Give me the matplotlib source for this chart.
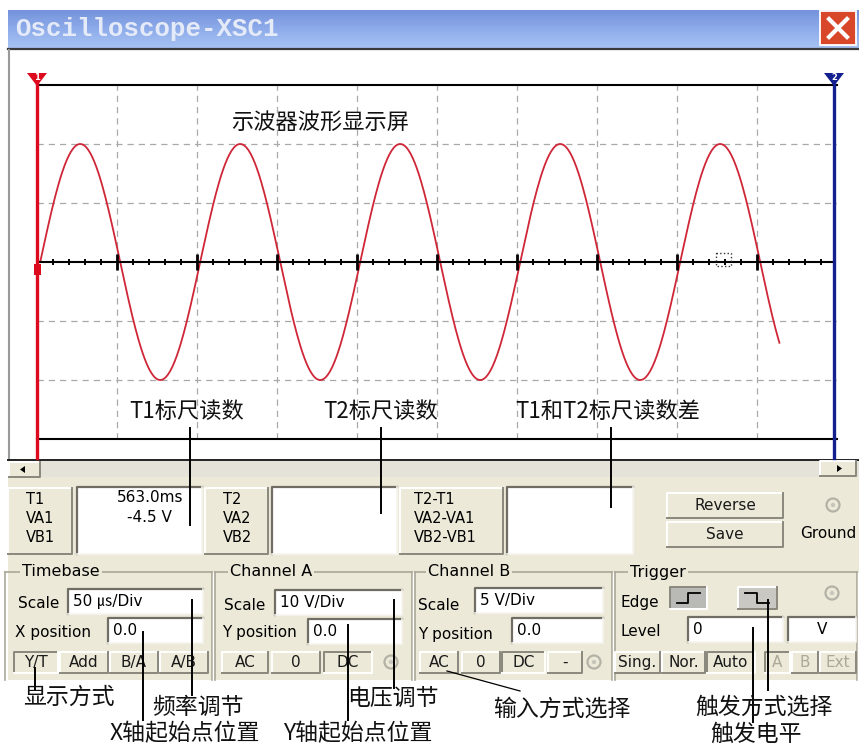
import matplotlib.pyplot as plt
from matplotlib.patches import Rectangle, Polygon, Circle
import numpy as np

plt.rcParams['font.family'] = ['DejaVu Sans', 'Noto Sans CJK SC']
CJK = ['Noto Sans CJK SC', 'DejaVu Sans']

# values shown on the scope
time_per_div_us = 50
volt_per_div = 10
x_divs = 10
y_divs = 6
wave_amp_v = 20
wave_period_us = 100
wave_start_us = 2
wave_end_us = 464

readout_labels = [['T1', 'VA1', 'VB1'], ['T2', 'VA2', 'VB2'], ['T2-T1', 'VA2-VA1', 'VB2-VB1']]
t1_readout = ['563.0ms', '-4.5 V']
timebase_fields = ['50 ㎲/Div', '0.0']
cha_fields = ['10 V/Div', '0.0']
chb_fields = ['5 V/Div', '0.0']
trig_level = ['0', 'V']

screen_notes = ['示波器波形显示屏', 'T1标尺读数', 'T2标尺读数', 'T1和T2标尺读数差']
bottom_notes = ['显示方式', '频率调节', 'X轴起始点位置', '电压调节', 'Y轴起始点位置',
                '输入方式选择', '触发方式选择', '触发电平']

W, H = 859, 746
PANEL = '#ece9d8'
fig = plt.figure(figsize=(W / 100, H / 100), dpi=100)
fig.patch.set_facecolor('white')

ui = fig.add_axes([0, 0, 1, 1], zorder=0)
ui.set_xlim(0, W)
ui.set_ylim(H, 0)
ui.axis('off')


def box(ax, x0, y0, x1, y1, fc, ec='none', lw=0, **kw):
    ax.add_patch(Rectangle((x0, y0), x1 - x0, y1 - y0, fc=fc, ec=ec, lw=lw, **kw))


def bevel(x0, y0, x1, y1, sunken=False, fc=PANEL):
    box(ui, x0, y0, x1, y1, fc)
    hi, lo = '#ffffff', '#8a887c'
    if sunken:
        hi, lo = lo, hi
    ui.plot([x0, x0, x1], [y1, y0, y0], color=hi, lw=1.4)
    ui.plot([x0, x1, x1], [y1, y1, y0], color=lo, lw=1.4)


def field(x0, y0, x1, y1, txt='', center=False):
    box(ui, x0, y0, x1, y1, 'white')
    ui.plot([x0, x0, x1], [y1, y0, y0], color='#6f6d64', lw=1.6)
    ui.plot([x0, x1, x1], [y1, y1, y0], color='#f6f5f0', lw=1.2)
    if center:
        ui.text((x0 + x1) / 2, (y0 + y1) / 2, txt, ha='center', va='center', fontsize=11)
    else:
        ui.text(x0 + 5, (y0 + y1) / 2, txt, ha='left', va='center', fontsize=11)


def button(lbl, x0, x1, sunken=False, y0=652, y1=673, color='#1a1a1a'):
    bevel(x0, y0, x1, y1, sunken)
    ui.text((x0 + x1) / 2, (y0 + y1) / 2, lbl, ha='center', va='center', fontsize=11, color=color)


def radio(x, y):
    ui.add_patch(Circle((x, y), 6.5, fc='none', ec='#b4b2a6', lw=1.6))
    ui.add_patch(Circle((x, y), 2.2, fc='#c8c6bc', ec='none'))


# title bar
grad = np.linspace(0, 1, 40).reshape(-1, 1)
ui.imshow(grad, extent=(8, W, 48, 10), cmap=plt.matplotlib.colors.LinearSegmentedColormap.from_list(
    'tb', ['#7593db', '#8eacea', '#a6c2f3']), aspect='auto', zorder=1)
ui.set_xlim(0, W)
ui.set_ylim(H, 0)
ui.text(15, 29, 'Oscilloscope-XSC1', family='Liberation Mono', weight='bold', fontsize=18.5,
        color='#e4eaf7', va='center', zorder=2)
ui.add_patch(Rectangle((820, 11), 36, 34, fc='#d8472a', ec='white', lw=1.3, zorder=2))
ui.plot([829, 847], [19, 37], color='white', lw=3, zorder=3)
ui.plot([847, 829], [19, 37], color='white', lw=3, zorder=3)
ui.plot([8, W], [49, 49], color='#3a3a3a', lw=1.6)

# screen surround
box(ui, 10, 50, 850, 459, 'white')
ui.plot([9, 9], [50, 459], color='#9a9a9a', lw=1.5)
ui.plot([8, W], [460, 460], color='#222222', lw=1.4)
box(ui, 8, 461, W, 477, '#e4e2d9')
bevel(9, 462, 40, 477)
ui.add_patch(Polygon([[20, 469.5], [25, 466], [25, 473]], fc='black'))
bevel(820, 461, 856, 476)
ui.add_patch(Polygon([[842, 468.5], [837, 465], [837, 472]], fc='black'))

# control panel
box(ui, 8, 477, W, 680, PANEL)
label_boxes = [(8, 72, 77, 202), (205, 268, 272, 397), (400, 503, 507, 633)]
for (lx0, lx1, wx0, wx1), labels in zip(label_boxes, readout_labels):
    bevel(lx0, 488, lx1, 554)
    xs = lx0 + 18 if lx1 - lx0 < 80 else lx0 + 14
    for k, s in enumerate(labels):
        ui.text(xs, 500 + k * 18.5, s, fontsize=10.5, va='center')
    field(wx0, 487, wx1, 554)
ui.text(183, 498, t1_readout[0], ha='right', va='center', fontsize=11)
ui.text(172, 517, t1_readout[1], ha='right', va='center', fontsize=11)

button('Reverse', 667, 783, y0=493, y1=518)
button('Save', 667, 783, y0=522, y1=547)
radio(833, 505)
ui.text(800, 533, 'Ground', fontsize=11, va='center')

groups = [('Timebase', 5, 212, 22), ('Channel A', 215, 412, 230), ('Channel B', 415, 612, 428),
          ('Trigger', 615, 857, 630)]
for name, gx0, gx1, lx in groups:
    ui.plot([gx0, gx1], [572, 572], color='#aca899', lw=1.2)
    ui.plot([gx0, gx0], [572, 680], color='#aca899', lw=1.2)
    ui.plot([gx1, gx1], [572, 680], color='#aca899', lw=1.2)
    ui.plot([gx1 + 1.2, gx1 + 1.2], [573, 680], color='white', lw=1)
    ui.text(lx, 572, name, fontsize=11.5, va='center',
            bbox=dict(fc=PANEL, ec='none', pad=1.5))

ui.text(18, 603, 'Scale', fontsize=11, va='center')
field(68, 589, 203, 614, timebase_fields[0])
ui.text(15, 632, 'X position', fontsize=11, va='center')
field(108, 618, 203, 643, timebase_fields[1])
for lbl, a, b, s in [('Y/T', 14, 58, True), ('Add', 60, 108, False), ('B/A', 110, 158, False),
                     ('A/B', 160, 208, False)]:
    button(lbl, a, b, s)

ui.text(224, 605, 'Scale', fontsize=11, va='center')
field(275, 590, 402, 615, cha_fields[0])
ui.text(222, 633, 'Y position', fontsize=11, va='center')
field(308, 619, 402, 644, cha_fields[1])
for lbl, a, b, s in [('AC', 222, 268, False), ('0', 272, 320, False), ('DC', 324, 372, True)]:
    button(lbl, a, b, s)
radio(391, 662)

ui.text(418, 605, 'Scale', fontsize=11, va='center')
field(475, 588, 603, 613, chb_fields[0])
ui.text(418, 634, 'Y position', fontsize=11, va='center')
field(512, 618, 603, 643, chb_fields[1])
for lbl, a, b, s in [('AC', 420, 458, False), ('0', 462, 500, False), ('DC', 502, 545, True),
                     ('-', 548, 582, False)]:
    button(lbl, a, b, s)
radio(594, 662)

ui.text(620, 602, 'Edge', fontsize=11, va='center')
bevel(670, 587, 707, 609, sunken=True, fc='#b9b9b6')
ui.plot([677, 688, 688, 700], [603, 603, 593, 593], color='black', lw=1.3)
bevel(738, 587, 777, 609, fc='#c9c8c2')
ui.plot([745, 757, 757, 769], [593, 593, 603, 603], color='black', lw=1.3)
radio(832, 593)
ui.text(620, 632, 'Level', fontsize=11, va='center')
field(688, 617, 783, 642, trig_level[0])
field(788, 617, 856, 642, trig_level[1], center=True)
for lbl, a, b, s, c in [('Sing.', 615, 660, False, '#1a1a1a'), ('Nor.', 662, 705, False, '#1a1a1a'),
                        ('Auto', 707, 755, True, '#1a1a1a'), ('A', 765, 790, True, '#aca899'),
                        ('B', 792, 818, False, '#aca899'), ('Ext', 820, 856, False, '#aca899')]:
    button(lbl, a, b, s, color=c)

# scope screen
scr = fig.add_axes([37 / W, 1 - 439 / H, 800 / W, 354 / H], zorder=1)
scr.set_facecolor('none')
xmax = x_divs * time_per_div_us
ymax = y_divs / 2 * volt_per_div
scr.set_xlim(0, xmax)
scr.set_ylim(-ymax, ymax)
for xv in np.arange(time_per_div_us, xmax, time_per_div_us):
    scr.axvline(xv, color='#a9a9a9', lw=0.9, ls=(0, (5, 4)))
for yv in [-20, -10, 10, 20]:
    scr.axhline(yv, color='#a9a9a9', lw=0.9, ls=(0, (5, 4)))

t = np.linspace(wave_start_us, wave_end_us, 700)
v = wave_amp_v * np.sin(2 * np.pi * (t - wave_start_us) / wave_period_us)
scr.plot(t, v, color='#cf2738', lw=1.3)

scr.plot([0, xmax - 3], [0, 0], color='black', lw=1.5)
minor = [x for x in np.arange(10, xmax, 10) if x % time_per_div_us]
major = np.arange(time_per_div_us, xmax, time_per_div_us)
scr.plot(minor, np.zeros(len(minor)), ls='none', marker='|', ms=5, mew=1.4, color='black')
scr.plot(major, np.zeros(len(major)), ls='none', marker='|', ms=11, mew=2, color='black')
scr.set_xticks([])
scr.set_yticks([])
for side in ['left', 'right']:
    scr.spines[side].set_visible(False)
for side in ['top', 'bottom']:
    scr.spines[side].set_linewidth(1.5)

# overlay: cursors and notes
ov = fig.add_axes([0, 0, 1, 1], zorder=2)
ov.set_facecolor('none')
ov.set_xlim(0, W)
ov.set_ylim(H, 0)
ov.axis('off')

ov.plot([37, 37], [80, 458], color='#dd0a1e', lw=2.4)
box(ov, 34, 264, 41, 275, '#dd0a1e')
box(ov, 35, 276, 39, 283, 'white')
ov.add_patch(Polygon([[27, 73], [47, 73], [37, 86]], fc='#dd0a1e'))
ov.text(37, 77, '1', color='white', fontsize=6, ha='center', va='center', weight='bold')
ov.plot([834, 834], [80, 458], color='#14208f', lw=2.4)
ov.add_patch(Polygon([[824, 73], [844, 73], [834, 86]], fc='#14208f'))
ov.text(834, 77, '2', color='white', fontsize=6, ha='center', va='center', weight='bold')
ov.add_patch(Rectangle((716, 253), 15, 13, fill=False, ls=':', ec='#333333', lw=1))

for s, (x, y) in zip(screen_notes, [(320, 122), (187, 411), (381, 411), (608, 411)]):
    ov.text(x, y, s, family=CJK, fontsize=16, ha='center', va='center', color='#111111')
for x, y1 in [(190, 525), (381, 513), (611, 507)]:
    ov.plot([x, x], [428, y1], color='black', lw=1.4)

note_pos = [(69, 697), (198, 707), (185, 734), (393, 698), (358, 734), (562, 709), (764, 707),
            (756, 734)]
for s, (x, y) in zip(bottom_notes, note_pos):
    ov.text(x, y, s, family=CJK, fontsize=16.5, ha='center', va='center', color='#111111')
for x, ya, yb in [(35, 668, 690), (192, 600, 695), (143, 632, 720), (394, 600, 688),
                  (348, 625, 720), (768, 600, 690), (753, 628, 722)]:
    ov.plot([x, x], [ya, yb], color='black', lw=1.4)
ov.plot([447, 520], [671, 691], color='black', lw=0.9)

fig.savefig('out.png', dpi=100)
